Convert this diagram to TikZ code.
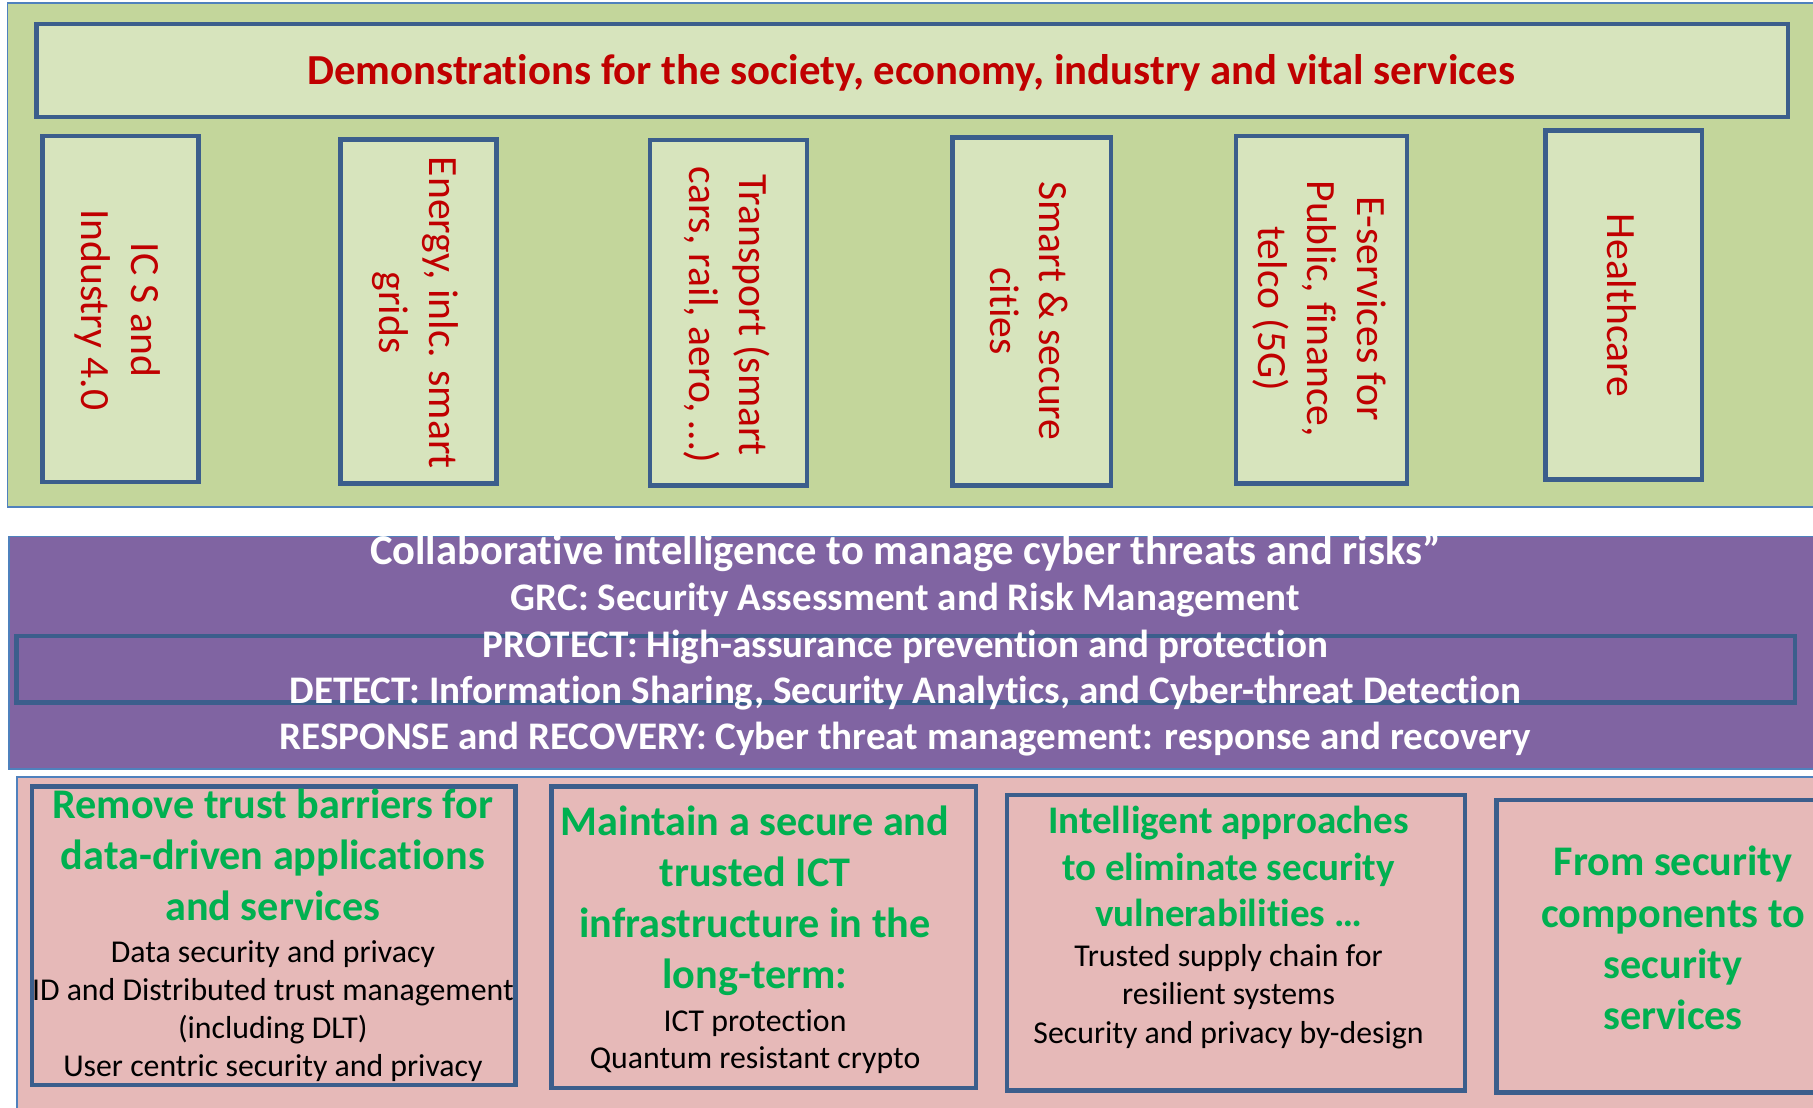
\documentclass[tikz,border=0pt]{standalone}
\usepackage{fontspec}
\setmainfont{Carlito}[Ligatures=NoCommon]
\definecolor{olivebg}{HTML}{C3D69B}
\definecolor{lightol}{HTML}{D7E4BD}
\definecolor{boxblue}{HTML}{3B5E8C}
\definecolor{thinblue}{HTML}{4F81BD}
\definecolor{redtxt}{HTML}{C00000}
\definecolor{purp}{HTML}{8064A2}
\definecolor{pinkbg}{HTML}{E6B9B8}
\definecolor{grtxt}{HTML}{00B050}
\newcommand\myfs[2]{\fontsize{#1}{#2}\selectfont}
\begin{document}
\begin{tikzpicture}[x=1pt,y=-1pt,
  band/.style={draw=thinblue, line width=1.5pt, inner sep=0, outer sep=0, anchor=north west},
  lbox/.style={draw=boxblue, fill=lightol, line width=4pt, inner sep=0},
  pbox/.style={draw=boxblue, line width=4pt, inner sep=0},
  ttl/.style={text=redtxt, font=\bfseries\myfs{37}{44}, inner sep=0, anchor=base},
  ptx/.style={text=white, font=\bfseries\myfs{33.8}{40}, inner sep=0, anchor=base},
  gtx/.style={text=grtxt, font=\bfseries\myfs{36.5}{44}, inner sep=0, anchor=base},
  gtxs/.style={text=grtxt, font=\bfseries\myfs{33.8}{40}, inner sep=0, anchor=base},
  btx/.style={text=black, font=\myfs{27.5}{33}, inner sep=0, anchor=base},
  vtx/.style={text=redtxt, font=\myfs{36}{43}, rotate=-90, align=center, inner sep=0}]
\useasboundingbox (0,0) rectangle (1568,958);
\clip (0,0) rectangle (1568,958);
\fill[white] (0,0) rectangle (1568,958);
% top band
\node[band, fill=olivebg, minimum width=1600pt, minimum height=436pt] (green) at (6.5,2.5) {};
\node[lbox, minimum width=1515pt, minimum height=80.5pt] (title) at (789,61) {};
\node[ttl] (titletxt) at (788,73.5) {Demonstrations for the society, economy, industry and vital services};
\node[lbox, minimum width=135pt, minimum height=299.4pt] (b1) at (104,267.3) {};
\node[lbox, minimum width=134.7pt, minimum height=297.5pt] (b2) at (362,269.3) {};
\node[lbox, minimum width=136pt, minimum height=299pt] (b3) at (630,270.5) {};
\node[lbox, minimum width=137pt, minimum height=301pt] (b4) at (892.5,269.5) {};
\node[lbox, minimum width=148pt, minimum height=300.4pt] (b5) at (1143,267.8) {};
\node[lbox, minimum width=135.3pt, minimum height=301.5pt] (b6) at (1404.3,263.7) {};
\node[vtx] (t1) at (101.5,268) {IC S and\\Industry 4.0};
\node[vtx] (t2) at (359.5,270.5) {Energy, inlc. smart\\grids};
\node[vtx] (t3) at (628.5,272.5) {Transport (smart\\cars, rail, aero, …)};
\node[vtx] (t4) at (890,269) {Smart \& secure\\cities};
\node[vtx] (t5) at (1141,267) {E-services for\\Public, finance,\\telco (5G)};
\node[vtx] (t6) at (1403,264) {Healthcare};
% purple band
\node[band, fill=purp, minimum width=1600pt, minimum height=201pt] (purple) at (8,464) {};
\node[pbox, minimum width=1538.5pt, minimum height=57.5pt] (inner) at (783.25,578.75) {};
\node[ptx, font=\bfseries\myfs{36.8}{40}] (p1) at (783,488) {Collaborative intelligence to manage cyber threats and risks”};
\node[ptx] (p2) at (783,528.2) {GRC: Security Assessment and Risk Management};
\node[ptx] (p3) at (783,568.3) {PROTECT: High-assurance prevention and protection};
\node[ptx] (p4) at (783,608.5) {DETECT: Information Sharing, Security Analytics, and Cyber-threat Detection};
\node[ptx] (p5) at (783,648.6) {RESPONSE and RECOVERY: Cyber threat management: response and recovery};
% pink band
\node[band, fill=pinkbg, minimum width=1600pt, minimum height=300pt] (pink) at (15,672) {};
\node[pbox, minimum width=418pt, minimum height=258.4pt] (ba) at (236.6,809.2) {};
\node[pbox, minimum width=367pt, minimum height=261pt] (bb) at (660.5,810.5) {};
\node[pbox, minimum width=396pt, minimum height=255.4pt] (bc) at (1069,815.3) {};
\node[pbox, minimum width=330pt, minimum height=253pt, anchor=north west] (bd) at (1292,690) {};
% box A
\node[gtx] (a1) at (236,707.7) {Remove trust barriers for};
\node[gtx] (a2) at (236,751.9) {data-driven applications};
\node[gtx] (a3) at (236,796.1) {and services};
\node[btx] (a4) at (236,832.5) {Data security and privacy};
\node[btx] (a5) at (236,865.2) {ID and Distributed trust management};
\node[btx] (a6) at (236,897.9) {(including DLT)};
\node[btx] (a7) at (236,930.6) {User centric security and privacy};
% box B
\node[gtx] (bb1) at (653,722.2) {Maintain a secure and};
\node[gtx] (bb2) at (653,766.4) {trusted ICT};
\node[gtx] (bb3) at (653,810.6) {infrastructure in the};
\node[gtx] (bb4) at (653,854.8) {long-term:};
\node[btx] (bb5) at (653,892.2) {ICT protection};
\node[btx] (bb6) at (653,924.2) {Quantum resistant crypto};
% box C
\node[gtxs] (c1) at (1062.5,720.7) {Intelligent approaches};
\node[gtxs] (c2) at (1062.5,761.1) {to eliminate security};
\node[gtxs] (c3) at (1062.5,801.5) {vulnerabilities …};
\node[btx] (c4) at (1062.5,836) {Trusted supply chain for};
\node[btx] (c5) at (1062.5,869.1) {resilient systems};
\node[btx] (c6) at (1062.5,902.2) {Security and privacy by-design};
% box D
\node[gtx] (d1) at (1447,757.6) {From security};
\node[gtx] (d2) at (1447,801.8) {components to};
\node[gtx] (d3) at (1447,846) {security};
\node[gtx] (d4) at (1447,890.2) {services};
\end{tikzpicture}
\end{document}
